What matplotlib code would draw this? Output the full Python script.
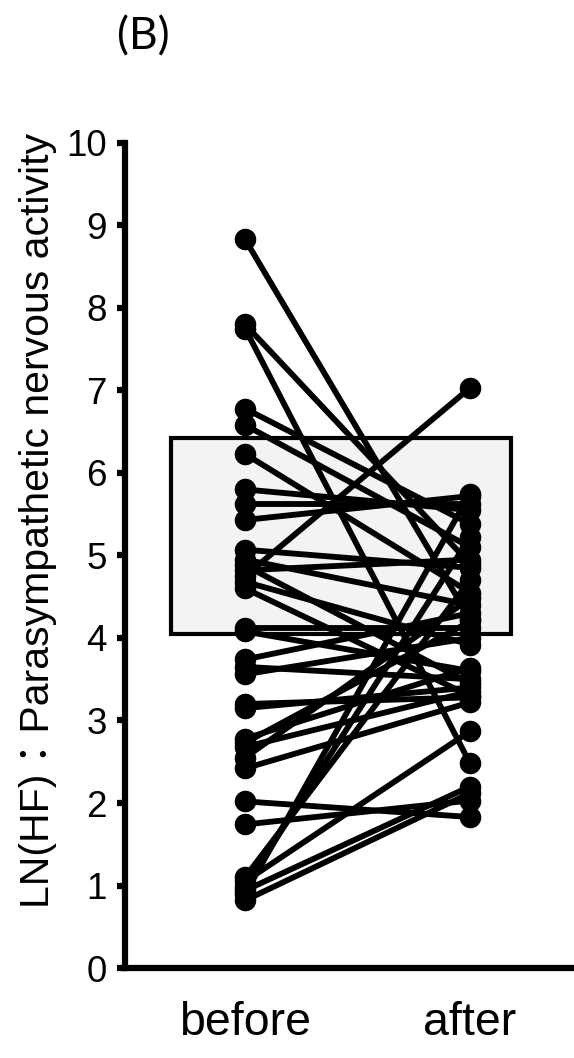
import matplotlib
matplotlib.use("Agg")
import matplotlib.pyplot as plt

# paired values, one line per subject
before = [8.83, 7.80, 7.75, 6.78, 6.58, 6.23, 5.80, 5.62, 5.43, 5.07, 4.95, 4.88,
          4.82, 4.75, 4.68, 4.60, 4.12, 4.08, 3.74, 3.65, 3.56, 3.20, 3.15, 2.78,
          2.73, 2.68, 2.55, 2.42, 2.02, 1.74, 1.10, 1.05, 0.98, 0.94, 0.90, 0.82]
after = [4.23, 4.90, 2.48, 5.38, 5.10, 4.55, 5.55, 5.62, 5.72, 4.85, 4.40, 3.45,
         4.95, 7.03, 3.92, 3.30, 4.12, 3.60, 4.30, 3.50, 4.00, 3.28, 3.40, 3.64,
         4.20, 3.35, 4.48, 3.22, 1.83, 2.03, 4.70, 2.87, 5.22, 2.20, 5.75, 2.12]

groups = ["before", "after"]
box_low, box_high = 4.05, 6.42

fig = plt.figure(figsize=(5.74, 10.58), dpi=100)
ax = fig.add_axes([0.218, 0.085, 0.782, 0.78])

# grey box behind the lines
ax.bar(0.425, box_high - box_low, width=1.51, bottom=box_low,
       color="#f3f3f3", edgecolor="black", linewidth=3, zorder=1)

for b, a in zip(before, after):
    ax.plot([0, 1], [b, a], color="black", linewidth=4.2,
            marker="o", markersize=14.5, zorder=3)

ax.set_xlim(-0.533, 1.462)
ax.set_ylim(0, 10)
ax.set_yticks(range(0, 11))
ax.set_xticks([0, 1])
ax.set_xticklabels(groups)

for s in ["top", "right"]:
    ax.spines[s].set_visible(False)
for s in ["left", "bottom"]:
    ax.spines[s].set_linewidth(4.5)

ax.tick_params(axis="y", direction="out", length=6, width=4.5, pad=7,
               labelsize=26.5)
ax.tick_params(axis="x", length=0, pad=24, labelsize=33.5)
for lab in ax.get_xticklabels() + ax.get_yticklabels():
    lab.set_family("Liberation Sans")

ax.text(-0.195, 0.542, "LN(HF)：Parasympathetic nervous activity",
        transform=ax.transAxes, rotation=90, ha="center", va="center",
        fontsize=29.5, family=["Liberation Sans", "Noto Sans CJK JP"])

fig.text(0.203, 0.965, "(B)", fontsize=32, family="Lato",
         ha="left", va="center")

fig.savefig("out.png", dpi=100)
